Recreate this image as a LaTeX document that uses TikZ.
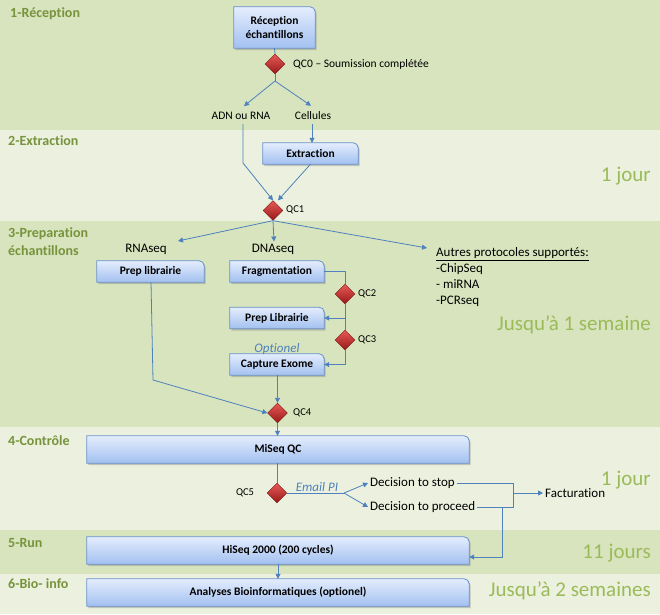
\documentclass[tikz,border=0pt]{standalone}
\usepackage{fontspec}
\setmainfont[Ligatures={NoCommon}]{Carlito}
\usetikzlibrary{arrows.meta,shapes.geometric,calc}
\pgfdeclarelayer{bands}
\pgfdeclarelayer{boxes}
\pgfsetlayers{bands,boxes,main}
\definecolor{bandD}{RGB}{215,228,189}
\definecolor{bandL}{RGB}{235,241,222}
\definecolor{labcol}{RGB}{119,147,60}
\definecolor{durcol}{RGB}{155,187,89}
\definecolor{lncol}{RGB}{79,129,189}
\definecolor{boxtop}{RGB}{228,237,253}
\definecolor{boxbot}{RGB}{162,192,240}
\definecolor{boxline}{RGB}{105,145,205}
\definecolor{diatop}{RGB}{232,90,85}
\definecolor{diabot}{RGB}{150,25,25}
\tikzset{
  boxnode/.style={inner sep=0pt, align=center, font=\bfseries\fontsize{11.5}{13.5}\selectfont},
  dia/.style={diamond, minimum width=20pt, minimum height=20pt, inner sep=0pt,
    top color=diatop, bottom color=diabot, draw=diabot!80!black, line width=0.3pt},
  lab/.style={anchor=west, inner sep=0pt, text=labcol, font=\bfseries\fontsize{14}{17}\selectfont, align=left},
  dur/.style={anchor=east, inner sep=0pt, text=durcol, font=\fontsize{21}{24}\selectfont},
  qcl/.style={inner sep=0pt, font=\fontsize{10.5}{12}\selectfont},
  txt/.style={inner sep=2pt, font=\fontsize{11.5}{13}\selectfont},
  bigtxt/.style={inner sep=2pt, font=\fontsize{13}{15}\selectfont},
  itxt/.style={inner sep=0pt, text=lncol, font=\itshape\fontsize{13}{15}\selectfont},
  ln/.style={draw=lncol, line width=0.8pt},
  arr/.style={ln, -{Triangle[length=5pt,width=5pt]}},
}
\begin{document}
\begin{tikzpicture}[x=1pt,y=-1pt]
\useasboundingbox (0,0) rectangle (660,614);
\begin{pgfonlayer}{bands}
\fill[bandD] (0,0) rectangle (660,130);
\fill[bandL] (0,130) rectangle (660,221);
\fill[bandD] (0,221) rectangle (660,427);
\fill[bandL] (0,427) rectangle (660,530);
\fill[bandD] (0,530) rectangle (660,574);
\fill[bandL] (0,574) rectangle (660,614);
\end{pgfonlayer}

% band labels
\node[lab] (l1) at (10,14) {1-Réception};
\node[lab] (l2) at (8,141) {2-Extraction};
\node[lab] (l3) at (8,234) {3-Preparation};
\node[lab] (l3b) at (8,251) {échantillons};
\node[lab] (l4) at (8,441) {4-Contrôle};
\node[lab] (l5) at (8,543) {5-Run};
\node[lab] (l6) at (8,584) {6-Bio- info};

% durations
\node[dur] (d2) at (651,176) {1 jour};
\node[dur] (d3) at (651,325) {Jusqu’à 1 semaine};
\node[dur] (d4) at (651,480) {1 jour};
\node[dur] (d5) at (651,553) {11 jours};
\node[dur] (d6) at (651,591) {Jusqu’à 2 semaines};

% boxes
\node[boxnode, minimum width=81pt, minimum height=41pt] (rec) at (274.5,27.5) {Réception\\échantillons};
\node[boxnode, minimum width=95pt, minimum height=21pt] (ext) at (310.5,153.5) {Extraction};
\node[boxnode, minimum width=107pt, minimum height=21pt] (prep) at (150.5,271.5) {Prep librairie};
\node[boxnode, minimum width=94pt, minimum height=21pt] (frag) at (277,271.5) {Fragmentation};
\node[boxnode, minimum width=94pt, minimum height=21pt] (prepL) at (277,318) {Prep Librairie};
\node[boxnode, minimum width=94pt, minimum height=21pt] (cap) at (277,364.5) {Capture Exome};
\node[boxnode, minimum width=382pt, minimum height=27pt] (miseq) at (278,449.5) {MiSeq QC};
\node[boxnode, minimum width=382pt, minimum height=27pt] (hiseq) at (278,550.5) {HiSeq 2000 (200 cycles)};
\node[boxnode, minimum width=382pt, minimum height=27pt] (ana) at (278,592.5) {Analyses Bioinformatiques (optionel)};

\begin{pgfonlayer}{boxes}
\foreach \n in {rec,ext,prep,frag,prepL,cap,miseq,hiseq,ana}{
  \fill[black!45, opacity=0.45] ([xshift=1.5pt,yshift=-1.8pt]\n.south west) -- ([xshift=1.5pt,yshift=-1.8pt]\n.north west) -- ([xshift=-3.5pt,yshift=-1.8pt]\n.north east) arc[start angle=90,end angle=0,radius=5pt] -- ([xshift=1.5pt,yshift=-1.8pt]\n.south east) -- cycle;
  \shade[top color=boxtop, bottom color=boxbot, draw=boxline, line width=0.8pt]
    (\n.south west) -- (\n.north west) -- ([xshift=-5pt]\n.north east)
    arc[start angle=90,end angle=0,radius=5pt] -- (\n.south east) -- cycle;
}
\end{pgfonlayer}

% diamonds
\node[dia] (qc0) at (275,64) {};
\node[dia] (qc1) at (273,210.5) {};
\node[dia] (qc2) at (345,294) {};
\node[dia] (qc3) at (345,340) {};
\node[dia] (qc4) at (277.5,413) {};
\node[dia] (qc5) at (277,493) {};

% qc labels
\node[qcl, anchor=west, font=\fontsize{11.5}{13}\selectfont] (qc0l) at (293,64) {QC0 – Soumission complétée};
\node[qcl, anchor=west] (qc1l) at (286,210) {QC1};
\node[qcl, anchor=west] (qc2l) at (358,294) {QC2};
\node[qcl, anchor=west] (qc3l) at (358,340) {QC3};
\node[qcl, anchor=west] (qc4l) at (293,413) {QC4};
\node[qcl] (qc5l) at (245,493) {QC5};

% other texts
\node[txt] (adn) at (241,116) {ADN ou RNA};
\node[txt] (cell) at (313,116) {Cellules};
\node[bigtxt] (rna) at (146,249) {RNAseq};
\node[bigtxt] (dna) at (273,249) {DNAseq};
\node[inner sep=0pt, anchor=north west, align=left, font=\fontsize{13}{16}\selectfont] (autres) at (436,247)
  {\underline{Autres protocoles supportés:}\\-ChipSeq\\- miRNA\\-PCRseq};
\node[itxt] (opt) at (277,349) {Optionel};
\node[itxt] (email) at (317,487) {Email PI};
\node[bigtxt, anchor=west] (stop) at (368,483) {Decision to stop};
\node[bigtxt, anchor=west] (proceed) at (368,507) {Decision to proceed};
\node[bigtxt, anchor=west] (fact) at (543,493) {Facturation};

% connectors
\coordinate (br0) at (275,81);
\draw[ln] (rec.south) -- (qc0.north);
\draw[ln] (qc0.south) -- (br0);
\draw[arr] (br0) -- ([xshift=3pt,yshift=4pt]adn.north);
\draw[arr] (br0) -- ([xshift=-2pt,yshift=4pt]cell.north);
\coordinate (adnk) at (243,163);
\draw[arr] ([yshift=-2pt]adn.south -| adnk) -- (adnk) -- (qc1.north);
\draw[arr] ([xshift=-1pt,yshift=-2pt]cell.south) -- ([xshift=-1pt]cell.south |- ext.north);
\draw[arr] (ext.south) -- ([xshift=5pt]qc1.north);

\coordinate (rnatip) at (178,241);
\coordinate (dnatip) at (274,241.5);
\coordinate (autip) at (427,248);
\draw[arr] (qc1.south) -- (rnatip);
\draw[arr] (qc1.south) -- (dnatip);
\draw[arr] (qc1.south) -- (autip);

\coordinate (pk) at (153,380);
\draw[arr] ([xshift=0.5pt]prep.south) -- (pk) -- (qc4.west);
\draw[ln] (frag.east) -| (qc2.north);
\draw[ln] (qc2.south) -- (qc3.north);
\draw[arr] (qc2.south |- prepL.east) -- (prepL.east);
\draw[arr] (qc3.south) |- (cap.east);
\draw[arr] (cap.south -| qc4) -- (qc4.north);
\draw[arr] (qc4.south) -- (qc4.south |- miseq.north);

\draw[ln] (miseq.south -| qc5) -- (qc5.north);
\coordinate (br5) at (344,493);
\draw[ln] (qc5.east) -- (br5);
\draw[arr] (br5) -- (stop.west);
\draw[arr] (br5) -- (proceed.west);
\coordinate (jn) at (513,493);
\draw[ln] (stop.east) -| (jn);
\draw[ln] (proceed.east) -| (jn);
\draw[arr] (jn) -- (fact.west);
\coordinate (pk2) at (502,507);
\draw[arr] (pk2) |- ([yshift=-6.5pt]hiseq.east);
\draw[arr] (hiseq.south) -- (ana.north);
\end{tikzpicture}
\end{document}
